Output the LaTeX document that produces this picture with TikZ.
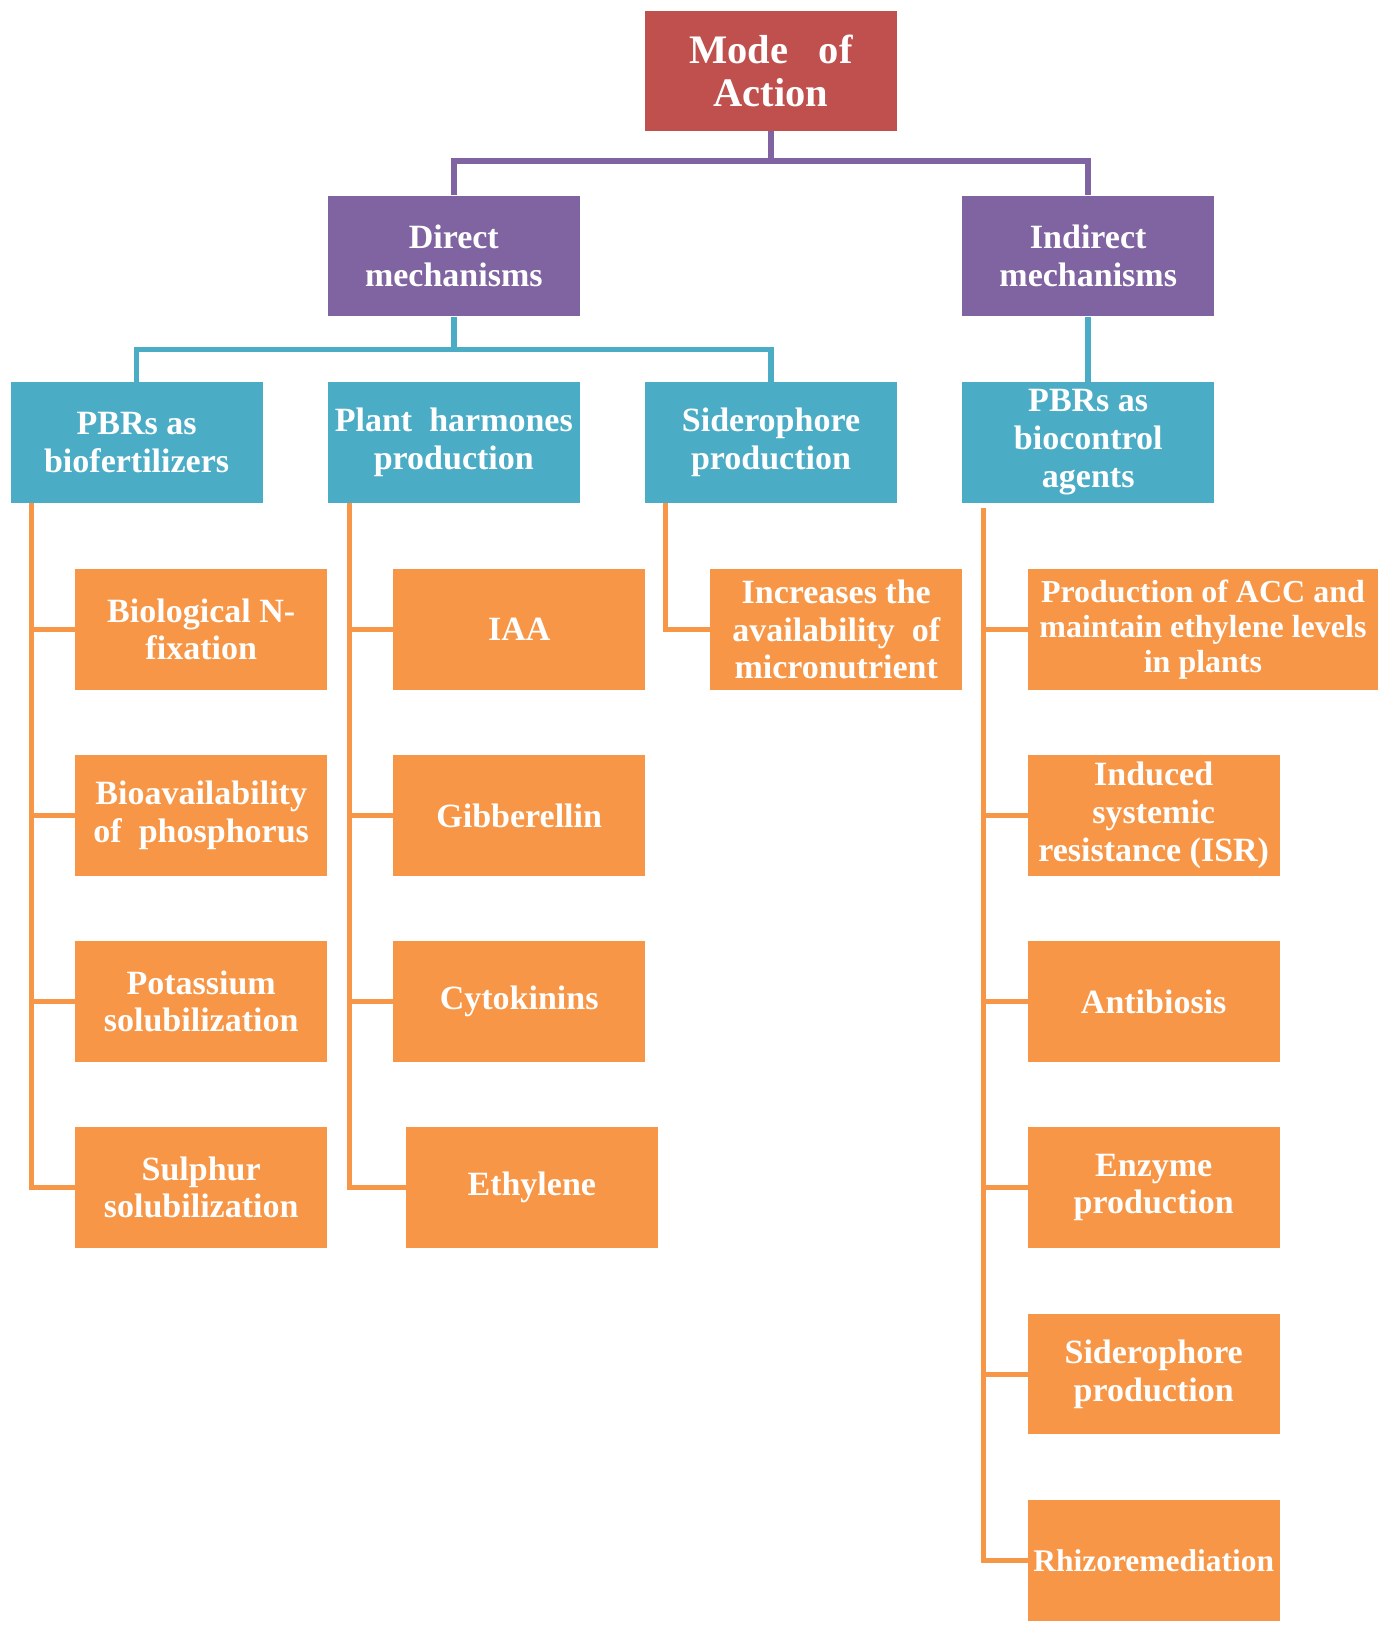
\documentclass[tikz,border=0pt]{standalone}
\usepackage{fontspec}
\setmainfont{Liberation Serif}
\usetikzlibrary{calc}
\definecolor{cred}{HTML}{C0504D}
\definecolor{cpurple}{HTML}{8064A2}
\definecolor{cblue}{HTML}{4BACC6}
\definecolor{corange}{HTML}{F79646}
\tikzset{
  boxbase/.style={rectangle, anchor=north west, minimum width=252pt, minimum height=120.6pt, inner sep=0pt, align=center, text=white, font=\bfseries\fontsize{34}{37.7}\selectfont},
  rootbox/.style={boxbase, fill=cred, font=\bfseries\fontsize{40.5}{43}\selectfont},
  mechbox/.style={boxbase, fill=cpurple},
  catbox/.style={boxbase, fill=cblue},
  leafbox/.style={boxbase, fill=corange},
  pl/.style={draw=cpurple, line width=5.5pt},
  bl/.style={draw=cblue, line width=5.5pt},
  ol/.style={draw=corange, line width=5pt},
}
\begin{document}
\begin{tikzpicture}[x=1pt,y=-1pt]
\useasboundingbox (0,0) rectangle (1388,1629);
% root and mechanisms
\node[rootbox] (mode) at (644.8,10.4) {Mode\ \ \ of\\Action};
\node[mechbox] (direct) at (327.6,195.5) {Direct\\mechanisms};
\node[mechbox] (indirect) at (962,195.5) {Indirect\\mechanisms};
% categories
\node[catbox] (pbr1) at (10.4,381.7) {PBRs as\\biofertilizers};
\node[catbox] (plant) at (327.6,381.7) {Plant\ \ harmones\\production};
\node[catbox] (sid) at (644.8,381.7) {Siderophore\\production};
\node[catbox] (pbr4) at (962,381.7) {PBRs as\\biocontrol\\agents};
% column 1
\node[leafbox] (bion) at (75,569) {Biological N-\\fixation};
\node[leafbox] (phos) at (75,755) {Bioavailability\\of\ \ phosphorus};
\node[leafbox] (pota) at (75,941) {Potassium\\solubilization};
\node[leafbox] (sulp) at (75,1127) {Sulphur\\solubilization};
% column 2
\node[leafbox] (iaa) at (393,569) {IAA};
\node[leafbox] (gib) at (393,755) {Gibberellin};
\node[leafbox] (cyto) at (393,941) {Cytokinins};
\node[leafbox] (ethy) at (405.6,1127) {Ethylene};
% column 3
\node[leafbox] (incr) at (710,569) {Increases the\\availability\ \ of\\micronutrient};
% column 4
\node[leafbox, minimum width=350.5pt, font=\bfseries\fontsize{32}{35}\selectfont] (acc) at (1027.5,569) {Production of ACC and\\maintain ethylene levels\\in plants};
\node[leafbox] (isr) at (1027.5,755) {Induced\\systemic\\resistance (ISR)};
\node[leafbox] (anti) at (1027.5,941) {Antibiosis};
\node[leafbox] (enz) at (1027.5,1127) {Enzyme\\production};
\node[leafbox] (sid2) at (1027.5,1313.5) {Siderophore\\production};
\node[leafbox, font=\bfseries\fontsize{31.5}{35}\selectfont] (rhizo) at (1027.5,1500) {Rhizoremediation};
% purple connectors
\coordinate (pbar) at (0,161);
\draw[pl] (mode.south) -- (mode.south |- pbar);
\draw[pl] (direct.north) |- (indirect.north |- pbar) -- (indirect.north);
% blue connectors
\coordinate (bbar) at (0,349.5);
\draw[bl] (direct.south) -- (direct.south |- bbar);
\draw[bl] (pbr1.north) |- (sid.north |- bbar) -- (sid.north);
\draw[bl] (indirect.south) -- (pbr4.north);
% orange connectors
\coordinate (c1) at ($(pbr1.south west)+(21,0)$);
\coordinate (c2) at ($(plant.south west)+(22,0)$);
\coordinate (c3) at ($(sid.south west)+(21,0)$);
\coordinate (c4) at ($(pbr4.south west)+(21,5)$);
\draw[ol] (c1) |- (sulp.west);
\foreach \n in {bion,phos,pota} \draw[ol] (c1 |- \n.west) -- (\n.west);
\draw[ol] (c2) |- (ethy.west);
\foreach \n in {iaa,gib,cyto} \draw[ol] (c2 |- \n.west) -- (\n.west);
\draw[ol] (c3) |- (incr.west);
\draw[ol] (c4) |- (rhizo.west);
\foreach \n in {acc,isr,anti,enz,sid2} \draw[ol] (c4 |- \n.west) -- (\n.west);
\end{tikzpicture}
\end{document}
